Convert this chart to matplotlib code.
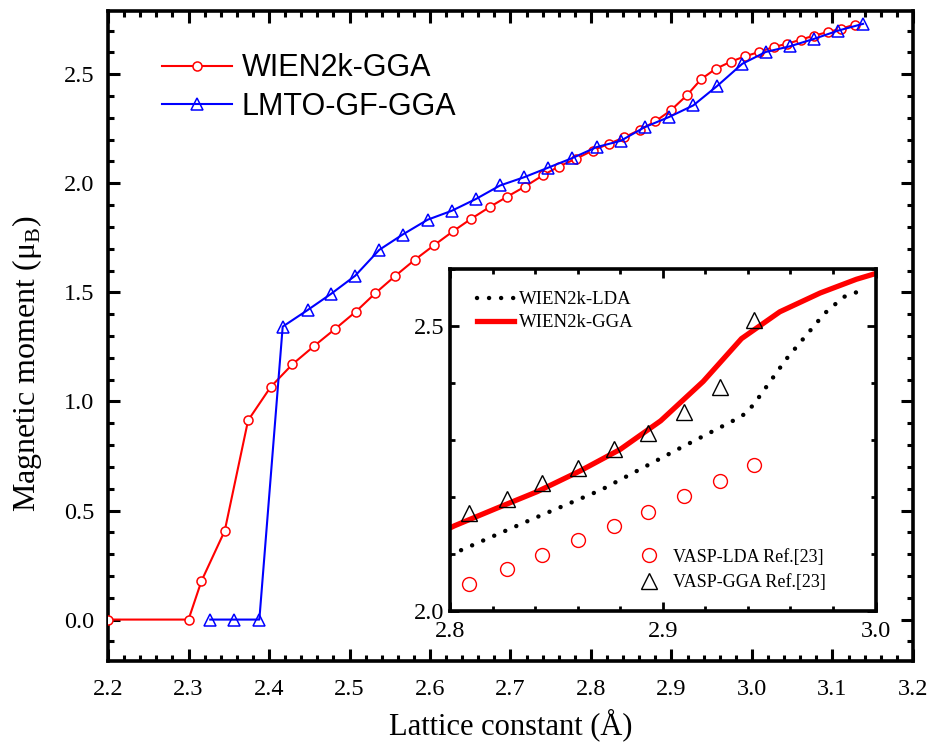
import matplotlib
matplotlib.use('Agg')
import matplotlib.pyplot as plt
from matplotlib.ticker import MultipleLocator

plt.rcParams['font.family'] = ['Liberation Serif', 'DejaVu Serif']
plt.rcParams['mathtext.fontset'] = 'custom'
plt.rcParams['mathtext.rm'] = 'Liberation Serif'

# main panel: WIEN2k-GGA
wien_x = [2.200, 2.300, 2.316, 2.345, 2.374, 2.402, 2.429, 2.456, 2.482, 2.508,
          2.532, 2.557, 2.581, 2.605, 2.629, 2.651, 2.674, 2.696, 2.718, 2.740,
          2.760, 2.781, 2.802, 2.822, 2.841, 2.861, 2.880, 2.899, 2.919, 2.937,
          2.955, 2.974, 2.991, 3.009, 3.027, 3.044, 3.061, 3.077, 3.095, 3.111,
          3.128]
wien_y = [0.000, 0.000, 0.176, 0.407, 0.913, 1.066, 1.170, 1.254, 1.332, 1.412,
          1.496, 1.576, 1.649, 1.716, 1.781, 1.837, 1.891, 1.939, 1.985, 2.036,
          2.077, 2.112, 2.150, 2.181, 2.210, 2.246, 2.284, 2.334, 2.403, 2.478,
          2.525, 2.558, 2.582, 2.602, 2.625, 2.640, 2.659, 2.677, 2.694, 2.709,
          2.728]

# main panel: LMTO-GF-GGA
lmto_x = [2.327, 2.357, 2.388, 2.417, 2.448, 2.477, 2.507, 2.537, 2.566, 2.597,
          2.627, 2.657, 2.687, 2.717, 2.747, 2.777, 2.807, 2.837, 2.867, 2.897,
          2.927, 2.957, 2.988, 3.017, 3.047, 3.077, 3.107, 3.138]
lmto_y = [0.000, 0.000, 0.000, 1.343, 1.419, 1.493, 1.576, 1.695, 1.765, 1.833,
          1.874, 1.928, 1.990, 2.028, 2.072, 2.116, 2.166, 2.195, 2.258, 2.304,
          2.357, 2.447, 2.548, 2.602, 2.628, 2.662, 2.700, 2.731]

# inset: WIEN2k-LDA
lda_x = [2.800, 2.840, 2.871, 2.908, 2.934, 2.939, 2.943, 2.958, 2.976, 2.985, 2.996]
lda_y = [2.099, 2.164, 2.213, 2.286, 2.336, 2.347, 2.364, 2.442, 2.522, 2.551, 2.566]

# inset: VASP reference values
vasp_x = [2.809, 2.827, 2.843, 2.860, 2.877, 2.893, 2.910, 2.927, 2.943]
vasp_lda = [2.049, 2.074, 2.099, 2.125, 2.150, 2.175, 2.202, 2.228, 2.256]
vasp_gga = [2.173, 2.197, 2.225, 2.252, 2.284, 2.312, 2.350, 2.394, 2.511]

fig = plt.figure(figsize=(9.36, 7.47), dpi=100)
ax = fig.add_axes([0.1154, 0.1151, 0.86, 0.8702])

ax.plot(wien_x, wien_y, '-o', color='red', lw=1.5, ms=6.5, mfc='white',
        mec='red', mew=1.1, label='WIEN2k-GGA', zorder=3)
ax.plot(lmto_x, lmto_y, '-^', color='blue', lw=1.5, ms=8, mfc='none',
        mec='blue', mew=1.1, label='LMTO-GF-GGA', zorder=3)

ax.set_xlim(2.2, 3.2)
ax.set_ylim(-0.19, 2.79)
ax.xaxis.set_major_locator(MultipleLocator(0.1))
ax.xaxis.set_minor_locator(MultipleLocator(0.02))
ax.yaxis.set_major_locator(MultipleLocator(0.5))
ax.yaxis.set_minor_locator(MultipleLocator(0.1))
ax.tick_params(which='both', direction='in', top=True, right=True, width=2.2)
ax.tick_params(which='major', length=8.5, labelsize=17.5)
ax.tick_params(which='minor', length=4.5)
ax.tick_params(axis='x', which='major', pad=13)
ax.tick_params(axis='y', which='major', pad=10)
ax.xaxis.set_major_formatter(matplotlib.ticker.FormatStrFormatter('%.1f'))
ax.yaxis.set_major_formatter(matplotlib.ticker.FormatStrFormatter('%.1f'))
for s in ax.spines.values():
    s.set_linewidth(2.6)

ax.set_xlabel('Lattice constant (Å)', fontsize=22, labelpad=6)
ax.set_ylabel('Magnetic moment (μ$_\\mathrm{B}$)', fontsize=23)
ax.yaxis.set_label_coords(-0.08, 0.457)

ax.legend(loc='upper left', bbox_to_anchor=(0.067, 0.935), frameon=False,
          borderpad=0, borderaxespad=0, handlelength=2.3, handletextpad=0.3,
          labelspacing=0.28, numpoints=1,
          prop={'family': ['Liberation Sans', 'DejaVu Sans'], 'size': 22})

# inset
ins = fig.add_axes([0.4808, 0.1814, 0.4546, 0.4585])
l1, = ins.plot(lda_x, lda_y, color='black', lw=3.2,
               linestyle=(0, (0.01, 2.7)), dash_capstyle='round',
               label='WIEN2k-LDA')
l2, = ins.plot(wien_x, wien_y, color='red', lw=3.8, label='WIEN2k-GGA')
p1, = ins.plot(vasp_x, vasp_lda, 'o', ls='none', ms=10, mfc='none', mec='red',
               mew=1.0, label='VASP-LDA Ref.[23]')
p2, = ins.plot(vasp_x, vasp_gga, '^', ls='none', ms=12, mfc='none',
               mec='black', mew=1.0, label='VASP-GGA Ref.[23]')

ins.set_xlim(2.8, 3.0)
ins.set_ylim(2.0, 2.6)
ins.xaxis.set_major_locator(MultipleLocator(0.1))
ins.xaxis.set_minor_locator(MultipleLocator(0.02))
ins.yaxis.set_major_locator(MultipleLocator(0.5))
ins.yaxis.set_minor_locator(MultipleLocator(0.1))
ins.tick_params(which='both', direction='in', top=True, right=True, width=2.0)
ins.tick_params(which='major', length=6.5, labelsize=17.5)
ins.tick_params(which='minor', length=3.5)
ins.tick_params(axis='x', which='major', pad=7)
ins.tick_params(axis='y', which='major', pad=4)
ins.xaxis.set_major_formatter(matplotlib.ticker.FormatStrFormatter('%.1f'))
ins.yaxis.set_major_formatter(matplotlib.ticker.FormatStrFormatter('%.1f'))
for s in ins.spines.values():
    s.set_linewidth(2.6)

leg1 = ins.legend(handles=[l1, l2], loc='upper left',
                  bbox_to_anchor=(0.0635, 0.935), frameon=False, borderpad=0,
                  borderaxespad=0, handlelength=1.95, handletextpad=0.26,
                  labelspacing=0.3, fontsize=13.5)
ins.add_artist(leg1)
ins.legend(handles=[p1, p2], loc='lower left', bbox_to_anchor=(0.442, 0.06),
           frameon=False, borderpad=0, borderaxespad=0, handlelength=1.2,
           handletextpad=0.74, labelspacing=0.45, fontsize=13, numpoints=1)

fig.savefig('out.png', dpi=100)
